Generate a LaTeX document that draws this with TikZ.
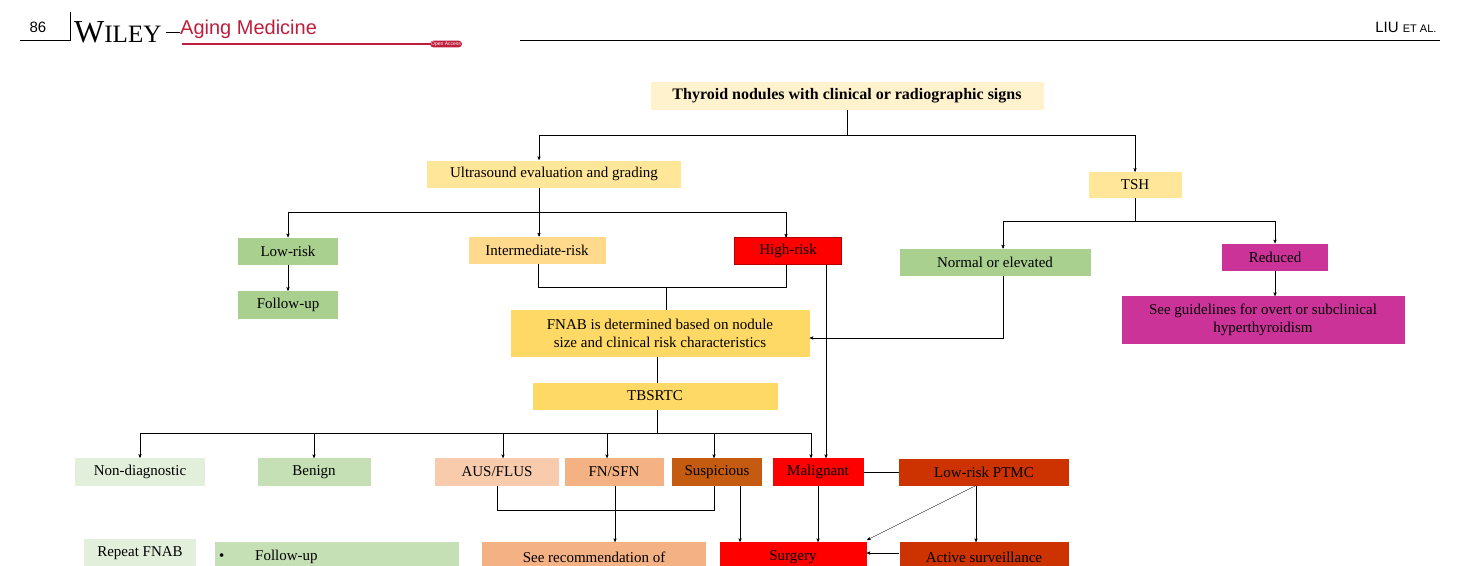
\documentclass[tikz,border=0pt]{standalone}
\usepackage{fontspec}
\setmainfont{Liberation Serif}
\setsansfont{Liberation Sans}
\usetikzlibrary{arrows}
\definecolor{cTop}{RGB}{255,242,204}
\definecolor{cUs}{RGB}{255,230,153}
\definecolor{cMid}{RGB}{255,217,140}
\definecolor{cFnab}{RGB}{255,217,102}
\definecolor{cGreen}{RGB}{169,208,142}
\definecolor{cPale}{RGB}{226,239,218}
\definecolor{cBen}{RGB}{197,224,180}
\definecolor{cAus}{RGB}{248,203,173}
\definecolor{cFn}{RGB}{244,177,131}
\definecolor{cSusp}{RGB}{197,90,17}
\definecolor{cPtmc}{RGB}{204,51,0}
\definecolor{cMag}{RGB}{204,51,153}
\definecolor{cWiley}{RGB}{190,30,60}
\begin{document}
\begin{tikzpicture}[x=1pt,y=-1pt]
\tikzstyle{box} = [rectangle, inner sep=2pt, text centered, font=\fontsize{15}{18}\selectfont]
\tikzstyle{arrow} = [thin,->,>=stealth']
\tikzstyle{line} = [thin,-]

\useasboundingbox (0,0) rectangle (1467,565);
\clip (0,0) rectangle (1467,565);

%header
\node (page) at (38,27) {\sffamily\fontsize{15}{17}\selectfont 86};
\draw (20,40) -- (70,40) -- (70,12);
\node (wiley) [anchor=west, inner sep=0pt] at (74,32) {\fontsize{32}{34}\selectfont W\fontsize{25}{28}\selectfont ILEY};
\draw (166,32) -- (180,32);
\node (journal) [anchor=west, text=cWiley, inner sep=0pt] at (180,29) {\sffamily\fontsize{20}{22}\selectfont Aging Medicine};
\draw [cWiley, line width=2pt] (182,44) -- (432,44);
\node (oa) [fill=cWiley, rounded corners=3pt, inner sep=1pt, text=white] at (446,44) {\sffamily\fontsize{5}{6}\selectfont Open Access};
\draw (520,40) -- (1440,40);
\node (author) [anchor=east] at (1440,27) {\sffamily\fontsize{15}{17}\selectfont LIU {\fontsize{11}{12}\selectfont ET AL.}};

%nodes
\node (top) [box, fill=cTop, minimum width=393, minimum height=28, font=\bfseries\fontsize{16}{18}\selectfont] at (847,96) {Thyroid nodules with clinical or radiographic signs};
\node (us) [box, fill=cUs, minimum width=254, minimum height=27] at (554,174) {Ultrasound evaluation and grading};
\node (tsh) [box, fill=cUs, minimum width=93, minimum height=26] at (1135,185) {TSH};
\node (low) [box, fill=cGreen, minimum width=100, minimum height=27] at (288,251) {Low-risk};
\node (fu) [box, fill=cGreen, minimum width=100, minimum height=28] at (288,305) {Follow-up};
\node (mid) [box, fill=cMid, minimum width=137, minimum height=27] at (537,250) {Intermediate-risk};
\node (high) [box, fill=red, draw=red!70!black, minimum width=107, minimum height=27] at (788,251) {High-risk};
\node (norm) [box, fill=cGreen, minimum width=191, minimum height=27] at (995,262) {Normal or elevated};
\node (red) [box, fill=cMag, minimum width=106, minimum height=27] at (1275,257) {Reduced};
\node (guide) [box, fill=cMag, minimum width=283, minimum height=48, align=center] at (1263,320) {See guidelines for overt or subclinical\\hyperthyroidism};
\node (fnab) [box, fill=cFnab, minimum width=299, minimum height=47, align=center] at (660,333) {FNAB is determined based on nodule\\size and clinical risk characteristics};
\node (tbs) [box, fill=cFnab, minimum width=245, minimum height=27] at (655,396) {TBSRTC};
\node (nd) [box, fill=cPale, minimum width=130, minimum height=28] at (140,472) {Non-diagnostic};
\node (ben) [box, fill=cBen, minimum width=113, minimum height=28] at (314,472) {Benign};
\node (aus) [box, fill=cAus, minimum width=124, minimum height=28] at (497,472) {AUS/FLUS};
\node (fn) [box, fill=cFn, minimum width=99, minimum height=28] at (614,472) {FN/SFN};
\node (susp) [box, fill=cSusp, minimum width=90, minimum height=28] at (717,472) {Suspicious};
\node (mal) [box, fill=red, minimum width=91, minimum height=28] at (818,472) {Malignant};
\node (ptmc) [box, fill=cPtmc, minimum width=170, minimum height=27] at (984,472) {Low-risk PTMC};
\node (rep) [box, fill=cPale, anchor=north, minimum width=112, minimum height=28] at (140,539) {Repeat FNAB};
\node (bfu) [box, fill=cBen, anchor=north west, minimum width=244, minimum height=30, text width=236, align=left] at (215,542) {\makebox[36pt][l]{\textbullet}Follow-up};
\node (rec) [box, fill=cFn, anchor=north, minimum width=224, minimum height=30] at (594,542) {See recommendation of};
\node (surg) [box, fill=red, anchor=north, minimum width=147, minimum height=30] at (793,542) {Surgery};
\node (act) [box, fill=cPtmc, anchor=north, minimum width=169, minimum height=30] at (984,542) {Active surveillance};

%lines
\coordinate (j1) at (847,135);
\draw [line] (top.south) -- (j1);
\draw [arrow] (j1) -| (539,160);
\draw [arrow] (j1) -| (tsh.north);
\draw [line] (539,188) -- (539,212);
\draw [arrow] (539,212) -| (low.north);
\draw [arrow] (539,212) -- (539,236.5);
\draw [arrow] (539,212) -| (786,237.5);
\draw [arrow] (low) -- (fu);
\draw [line] (538,263.5) |- (786,287) -- (786,264.5);
\draw [line] (666,287) -- (666,309.5);
\draw [line] (tsh.south) -- (1135,221);
\draw [arrow] (1135,221) -| (1003,248.5);
\draw [arrow] (1135,221) -| (red.north);
\draw [arrow] (1275,270.5) -- (1275,296);
\draw [arrow] (1003,275.5) |- (fnab.east |- 0,338);
\draw [line] (657,356.5) -- (657,382.5);
\draw [line] (657,409.5) -- (657,433);
\draw [arrow] (657,433) -| (nd.north);
\draw [arrow] (657,433) -| (314,458);
\draw [arrow] (657,433) -| (503,458);
\draw [arrow] (657,433) -| (607,458);
\draw [arrow] (657,433) -| (714,458);
\draw [arrow] (657,433) -| (811,458);
\draw [arrow] (826,264.5) -- (826,458);
\draw [line] (497,486) |- (714,510) -- (714,486);
\draw [arrow] (615,486) -- (615,542);
\draw [arrow] (740,486) -- (740,542);
\draw [arrow] (mal) -- (818,542);
\draw [line] (mal) -- (ptmc);
\draw [arrow] (976,485.5) -- (867,540);
\draw [arrow] (976,485.5) -- (976,542);
\draw [arrow] (act.west |- 0,553) -- (surg.east |- 0,553);
\end{tikzpicture}
\end{document}
